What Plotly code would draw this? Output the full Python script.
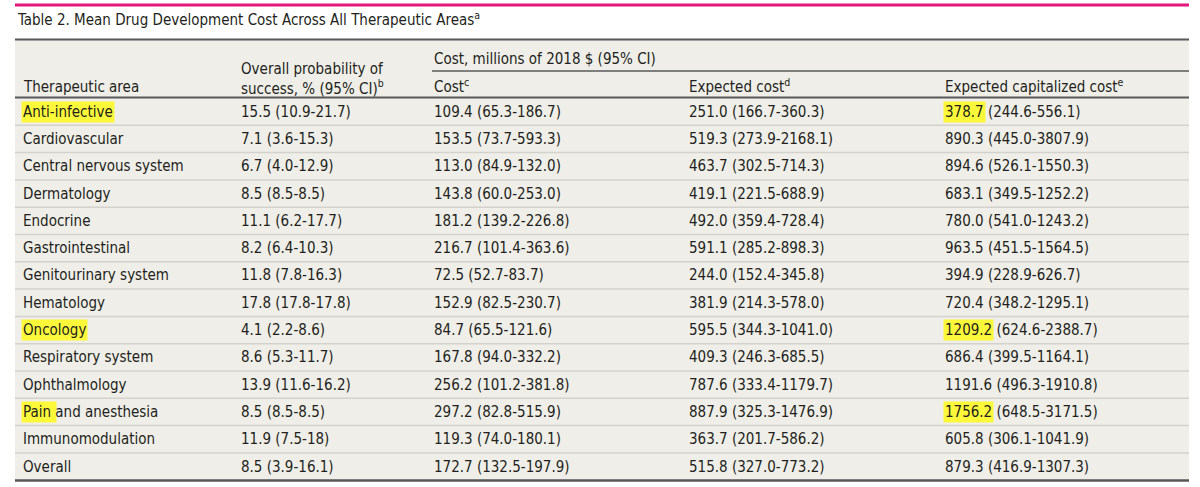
import plotly.graph_objects as go

# table content
title = "Table 2. Mean Drug Development Cost Across All Therapeutic Areas<sup>a</sup>"
col_headers = [
    "Therapeutic area",
    "Overall probability of<br>success, % (95% CI)<sup>b</sup>",
    "Cost<sup>c</sup>",
    "Expected cost<sup>d</sup>",
    "Expected capitalized cost<sup>e</sup>",
]
group_header = "Cost, millions of 2018 $ (95% CI)"

areas = ["Anti-infective", "Cardiovascular", "Central nervous system", "Dermatology",
         "Endocrine", "Gastrointestinal", "Genitourinary system", "Hematology",
         "Oncology", "Respiratory system", "Ophthalmology", "Pain and anesthesia",
         "Immunomodulation", "Overall"]
prob_success = ["15.5 (10.9-21.7)", "7.1 (3.6-15.3)", "6.7 (4.0-12.9)", "8.5 (8.5-8.5)",
                "11.1 (6.2-17.7)", "8.2 (6.4-10.3)", "11.8 (7.8-16.3)", "17.8 (17.8-17.8)",
                "4.1 (2.2-8.6)", "8.6 (5.3-11.7)", "13.9 (11.6-16.2)", "8.5 (8.5-8.5)",
                "11.9 (7.5-18)", "8.5 (3.9-16.1)"]
cost = ["109.4 (65.3-186.7)", "153.5 (73.7-593.3)", "113.0 (84.9-132.0)", "143.8 (60.0-253.0)",
        "181.2 (139.2-226.8)", "216.7 (101.4-363.6)", "72.5 (52.7-83.7)", "152.9 (82.5-230.7)",
        "84.7 (65.5-121.6)", "167.8 (94.0-332.2)", "256.2 (101.2-381.8)", "297.2 (82.8-515.9)",
        "119.3 (74.0-180.1)", "172.7 (132.5-197.9)"]
expected_cost = ["251.0 (166.7-360.3)", "519.3 (273.9-2168.1)", "463.7 (302.5-714.3)",
                 "419.1 (221.5-688.9)", "492.0 (359.4-728.4)", "591.1 (285.2-898.3)",
                 "244.0 (152.4-345.8)", "381.9 (214.3-578.0)", "595.5 (344.3-1041.0)",
                 "409.3 (246.3-685.5)", "787.6 (333.4-1179.7)", "887.9 (325.3-1476.9)",
                 "363.7 (201.7-586.2)", "515.8 (327.0-773.2)"]
expected_cap_cost = ["378.7 (244.6-556.1)", "890.3 (445.0-3807.9)", "894.6 (526.1-1550.3)",
                     "683.1 (349.5-1252.2)", "780.0 (541.0-1243.2)", "963.5 (451.5-1564.5)",
                     "394.9 (228.9-626.7)", "720.4 (348.2-1295.1)", "1209.2 (624.6-2388.7)",
                     "686.4 (399.5-1164.1)", "1191.6 (496.3-1910.8)", "1756.2 (648.5-3171.5)",
                     "605.8 (306.1-1041.9)", "879.3 (416.9-1307.3)"]

# highlighter marks: (row, column, highlighted prefix)
hl_rows = [0, 8, 11, 0, 8, 11]
hl_cols = [0, 0, 0, 4, 4, 4]
hl_text = ["Anti-infective", "Oncology", "Pain\u00a0", "378.7", "1209.2", "1756.2"]

# layout
W, H = 1200, 487
LEFT, RIGHT = 15, 1189
col_x = [21, 239, 432, 687, 943]
ROW_TOP, ROW_H = 98, 27.3
FONT = "DejaVu Sans Condensed, Liberation Sans Narrow, sans-serif"
SIZE = 15
INK = "#231f20"
BG = "#efeee8"
RULE = "#58585a"
YELLOW = "#fdf93a"

columns = [areas, prob_success, cost, expected_cost, expected_cap_cost]
n_rows = len(areas)


def row_y(i):
    return ROW_TOP + (i + 0.5) * ROW_H


fig = go.Figure()
# invisible trace to anchor the axes
fig.add_trace(go.Scatter(x=[0, W], y=[0, H], mode="markers",
                         marker=dict(opacity=0), hoverinfo="skip", showlegend=False))

shapes = [
    dict(type="rect", x0=LEFT, x1=RIGHT, y0=39, y1=481, fillcolor=BG, line_width=0, layer="below"),
    dict(type="line", x0=LEFT, x1=RIGHT, y0=5, y1=5, line=dict(color="#e2177b", width=3)),
    dict(type="line", x0=LEFT, x1=RIGHT, y0=39.5, y1=39.5, line=dict(color=RULE, width=2)),
    dict(type="line", x0=col_x[2], x1=RIGHT, y0=71, y1=71, line=dict(color=RULE, width=1.5)),
    dict(type="line", x0=LEFT, x1=RIGHT, y0=ROW_TOP - 0.5, y1=ROW_TOP - 0.5, line=dict(color=RULE, width=2)),
    dict(type="line", x0=LEFT, x1=RIGHT, y0=480.5, y1=480.5, line=dict(color=RULE, width=2.5)),
]
for k in range(1, n_rows):
    y = ROW_TOP + k * ROW_H
    shapes.append(dict(type="line", x0=LEFT, x1=RIGHT, y0=y, y1=y,
                       line=dict(color="#d3d2cc", width=1.5)))

ann = []
base = dict(xref="x", yref="y", showarrow=False, xanchor="left", yanchor="middle",
            align="left", borderpad=1, font=dict(family=FONT, size=SIZE, color=INK))

# title and headers
ann.append(dict(base, x=LEFT, y=19, text=title))
ann.append(dict(base, x=col_x[2], y=59, text=group_header))
ann.append(dict(base, x=col_x[0], y=87, text=col_headers[0]))
ann.append(dict(base, x=col_x[1], y=79, text=col_headers[1]))
for c in range(2, 5):
    ann.append(dict(base, x=col_x[c], y=86, text=col_headers[c]))

# cells; a cell that is highlighted in full just gets a yellow box,
# a partly highlighted one gets a yellow box under its prefix
for c, values in enumerate(columns):
    for r, v in enumerate(values):
        cell = dict(base, x=col_x[c], y=row_y(r), text=v)
        for hr, hc, ht in zip(hl_rows, hl_cols, hl_text):
            if hr == r and hc == c:
                if ht == v:
                    cell["bgcolor"] = YELLOW
                else:
                    ann.append(dict(base, x=col_x[c], y=row_y(r), text=ht, bgcolor=YELLOW,
                                    font=dict(family=FONT, size=SIZE, color="rgba(0,0,0,0)")))
        ann.append(cell)

fig.update_layout(
    width=W, height=H,
    margin=dict(l=0, r=0, t=0, b=0),
    paper_bgcolor="white", plot_bgcolor="white",
    xaxis=dict(range=[0, W], visible=False, fixedrange=True),
    yaxis=dict(range=[H, 0], visible=False, fixedrange=True),
    shapes=shapes, annotations=ann, showlegend=False,
)

fig.write_html("out.html", config={"displayModeBar": False},
               post_script="document.body.style.margin='0';")
